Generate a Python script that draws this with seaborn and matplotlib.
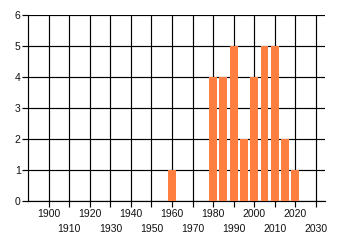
import matplotlib
matplotlib.use("Agg")
import matplotlib.pyplot as plt
import seaborn as sns
import pandas as pd

years = [1960, 1980, 1985, 1990, 1995, 2000, 2005, 2010, 2015, 2020]
counts = [1, 4, 4, 5, 2, 4, 5, 5, 2, 1]
major_ticks = [1900, 1920, 1940, 1960, 1980, 2000, 2020]
minor_ticks = [1910, 1930, 1950, 1970, 1990, 2010, 2030]
y_ticks = [0, 1, 2, 3, 4, 5, 6]

sns.set_style("white")
plt.rcParams['font.family'] = ['Liberation Sans', 'DejaVu Sans']

df = pd.DataFrame({"year": years, "count": counts})

fig = plt.figure(figsize=(3.4, 2.45), dpi=100)
ax = fig.add_axes([28.3 / 340, 44 / 245, (325 - 28.3) / 340, (201 - 15.3) / 245])

sns.barplot(data=df, x="year", y="count", native_scale=True, width=0.76,
            color="#FF7F40", saturation=1, ax=ax, zorder=3, edgecolor="none")

ax.set_xlim(1890, 2034.5)
ax.set_ylim(0, 6)
ax.set_xticks(major_ticks)
ax.set_xticks(minor_ticks, minor=True)
ax.set_xticklabels([str(t) for t in major_ticks])
ax.set_xticklabels([str(t) for t in minor_ticks], minor=True)
ax.set_yticks(y_ticks)
ax.set_yticklabels([str(t) for t in y_ticks])

lw = 0.85
ax.grid(True, which="both", axis="x", color="black", linewidth=lw, zorder=0)
ax.grid(True, which="major", axis="y", color="black", linewidth=lw, zorder=0)
ax.set_axisbelow(True)

ax.tick_params(axis="x", which="major", length=4, width=lw, color="black", pad=1.5,
               labelsize=7.5, labelcolor="#111111", bottom=True)
ax.tick_params(axis="x", which="minor", length=4, width=lw, color="black", pad=12.3,
               labelsize=7.5, labelcolor="#111111", bottom=True)
ax.tick_params(axis="y", which="major", length=4, width=lw, color="black", pad=1.5,
               labelsize=7.5, labelcolor="#111111", left=True)

for s in ["top", "right"]:
    ax.spines[s].set_visible(False)
for s in ["left", "bottom"]:
    ax.spines[s].set_color("black")
    ax.spines[s].set_linewidth(lw)

ax.set_xlabel("")
ax.set_ylabel("")

fig.savefig("out.png", dpi=100)
